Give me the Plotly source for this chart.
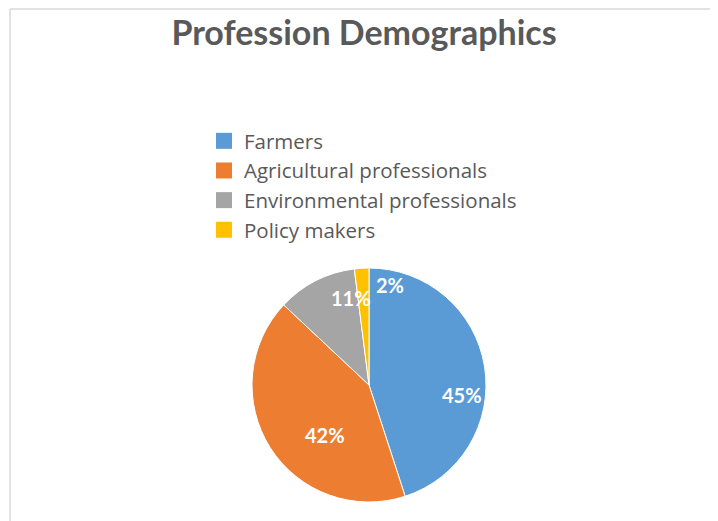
import math
import plotly.graph_objects as go

categories = ["Farmers", "Agricultural professionals", "Environmental professionals", "Policy makers"]
values = [45, 42, 11, 2]
colors = ["#5B9BD5", "#ED7D31", "#A5A5A5", "#FFC000"]
title_text = "Profession Demographics"

# label placement style (Excel "best fit"-like): radial fraction and angular shift per slice
label_radius = [0.80, 0.57, 0.76, 0.87]
label_shift_deg = [15, -16, 15, 15.5]

W, H = 710, 513          # page body has an 8px margin
CX, CY, R = 361, 377, 117  # pie centre / radius in figure pixels

fig = go.Figure()
fig.add_trace(go.Pie(
    labels=categories,
    values=values,
    sort=False,
    direction="clockwise",
    rotation=0,
    marker=dict(colors=colors, line=dict(color="white", width=1)),
    textinfo="none",
    showlegend=False,
    domain=dict(x=[(CX - R) / W, (CX + R) / W], y=[1 - (CY + R) / H, 1 - (CY - R) / H]),
    hoverinfo="label+percent",
))

# legend entries with larger square swatches
for name, col in zip(categories, colors):
    fig.add_trace(go.Scatter(
        x=[None], y=[None], mode="markers", name=name,
        marker=dict(symbol="square", size=16, color=col, line=dict(width=0)),
        hoverinfo="skip",
    ))

total = sum(values)
annotations = []
cum = 0.0
for v, f, s in zip(values, label_radius, label_shift_deg):
    mid = (cum + v / 2) / total * 360.0
    cum += v
    a = math.radians(mid + s)
    px = CX + f * R * math.sin(a)
    py = CY - f * R * math.cos(a)
    annotations.append(dict(
        text=f"{round(v / total * 100)}%", x=px / W, y=1 - py / H,
        xref="paper", yref="paper", showarrow=False, xanchor="center", yanchor="middle",
        font=dict(family="Lato", size=20, color="white", weight="bold"),
    ))

fig.update_layout(
    width=W, height=H,
    margin=dict(l=0, r=0, t=0, b=0),
    paper_bgcolor="white",
    plot_bgcolor="white",
    xaxis=dict(visible=False),
    yaxis=dict(visible=False),
    title=dict(text=title_text, x=356 / W, xanchor="center", y=1 - 25 / H, yanchor="middle",
               font=dict(family="Lato", size=34, color="#595959", weight="bold")),
    legend=dict(x=196 / W, xanchor="left", y=1 - 113 / H, yanchor="top",
                font=dict(family="Open Sans", size=20.5, color="#595959"),
                bgcolor="rgba(0,0,0,0)", traceorder="normal", itemwidth=30),
    annotations=annotations,
    shapes=[
        dict(type="line", xref="paper", yref="paper", x0=2 / W, x1=1, y0=1 - 1 / H, y1=1 - 1 / H,
             line=dict(color="#D9D9D9", width=1.5)),
        dict(type="line", xref="paper", yref="paper", x0=2 / W, x1=2 / W, y0=0, y1=1 - 1 / H,
             line=dict(color="#D9D9D9", width=1.5)),
    ],
)

fig.write_html("out.html")
